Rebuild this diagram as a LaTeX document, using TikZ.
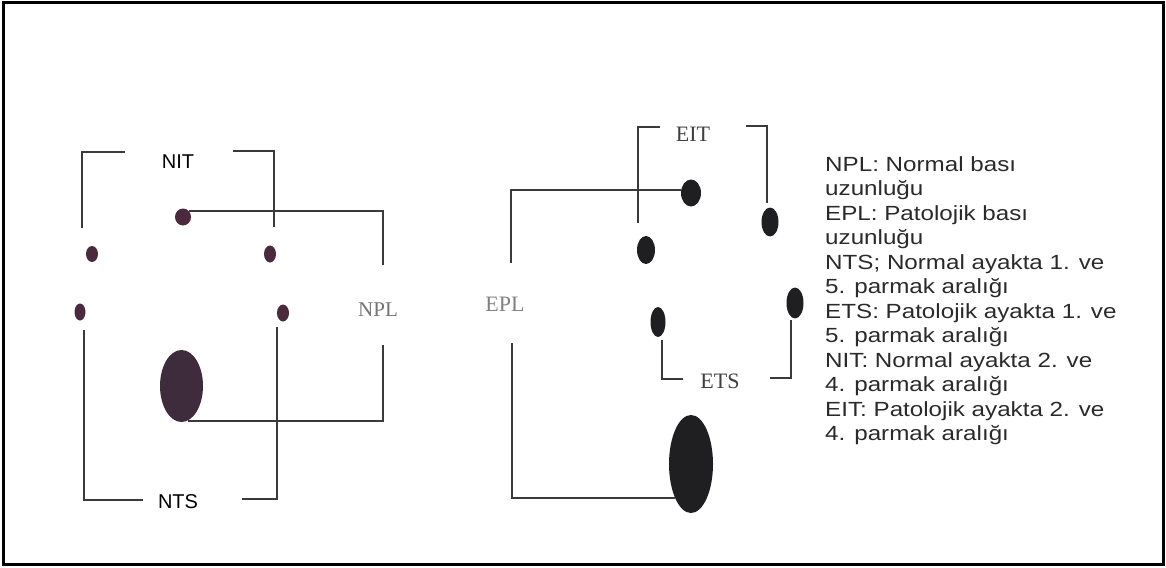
\documentclass[tikz,border=0pt]{standalone}
\usepackage{fontspec}
\usepackage{xcolor}
\usepackage{tikz}
\usetikzlibrary{shapes.geometric, positioning}
\setmainfont{Liberation Serif}
\newfontfamily\labsans{Liberation Sans}
\newfontfamily\legendfont[FakeStretch=1.18]{Liberation Sans}
\definecolor{footNormal}{HTML}{4A2A3C}
\definecolor{footNormalBig}{HTML}{3E2C3C}
\definecolor{footPatho}{HTML}{1F1F22}
\definecolor{lineGray}{HTML}{3A3A3A}
\definecolor{legendGray}{HTML}{2A2A2A}

\begin{document}
\begin{tikzpicture}[
    x=1pt, y=-1pt,
    link/.style={draw=lineGray, line width=1.9pt},
    ndot/.style={ellipse, fill=footNormal, inner sep=0pt},
    edot/.style={ellipse, fill=footPatho, inner sep=0pt},
    sanslbl/.style={font=\labsans\fontsize{20}{24}\selectfont, inner sep=0pt},
    seriflbl/.style={font=\fontsize{21}{24}\selectfont, inner sep=0pt},
]
    \useasboundingbox (0,0) rectangle (1166,567);
    \draw[line width=3pt] (3,3) rectangle (1163,564);

    % normal foot
    \node[ndot, minimum width=12pt, minimum height=16pt] (n1) at (92,254) {};
    \node[ndot, minimum width=16pt, minimum height=17pt] (n2) at (183,217) {};
    \node[ndot, minimum width=12pt, minimum height=17pt] (n3) at (270,254) {};
    \node[ndot, minimum width=11pt, minimum height=17pt] (n4) at (80,312) {};
    \node[ndot, minimum width=12pt, minimum height=17pt] (n5) at (283,313) {};
    \node[ellipse, fill=footNormalBig, inner sep=0pt, minimum width=43pt, minimum height=72pt] (nheel) at (181.5,386) {};

    \node[sanslbl] (nit) at (178,162) {NIT};
    \node[sanslbl] (nts) at (178,502) {NTS};
    \node[seriflbl, text=black!55] (npl) at (378,310) {NPL};

    \coordinate (nitA) at (82,228);
    \coordinate (nitB) at (125,152);
    \coordinate (nitC) at (233,151);
    \coordinate (nitD) at (274,227);
    \coordinate (ntsA) at (84,330);
    \coordinate (ntsB) at (143,500);
    \coordinate (ntsC) at (242,499);
    \coordinate (ntsD) at (277,327);
    \coordinate (nplA) at (383,265);
    \coordinate (nplB) at (383,345);

    \draw[link] (nitA) |- (nitB);
    \draw[link] (nitC) -| (nitD);
    \draw[link] (ntsA) |- (ntsB);
    \draw[link] (ntsC) -| (ntsD);
    \draw[link] (n2.north east) -| (nplA);
    \draw[link] (nheel.-80) -| (nplB);

    % pathologic foot
    \node[edot, minimum width=18pt, minimum height=28pt] (e1) at (646,250) {};
    \node[edot, minimum width=20pt, minimum height=27pt] (e2) at (691,193) {};
    \node[edot, minimum width=17pt, minimum height=29pt] (e3) at (770,222) {};
    \node[edot, minimum width=15pt, minimum height=30pt] (e4) at (658,322) {};
    \node[edot, minimum width=17pt, minimum height=31pt] (e5) at (795,303) {};
    \node[edot, minimum width=44pt, minimum height=98pt] (eheel) at (691,464) {};

    \node[seriflbl, text=black!75, font=\fontsize{22}{24}\selectfont] (eit) at (693,134) {EIT};
    \node[seriflbl, text=black!75, font=\fontsize{22}{24}\selectfont] (ets) at (720,381) {ETS};
    \node[seriflbl, text=black!50, font=\fontsize{22}{24}\selectfont] (epl) at (505,304) {EPL};

    \coordinate (eitA) at (638,223);
    \coordinate (eitB) at (660,127);
    \coordinate (eitC) at (746,126);
    \coordinate (eitD) at (767,203);
    \coordinate (etsA) at (662,340);
    \coordinate (etsB) at (683,379);
    \coordinate (etsC) at (770,378);
    \coordinate (etsD) at (791,320);
    \coordinate (eplA) at (511,263);
    \coordinate (eplB) at (512,343);

    \draw[link] (eitA) |- (eitB);
    \draw[link] (eitC) -| (eitD);
    \draw[link] (etsA) |- (etsB);
    \draw[link] (etsC) -| (etsD);
    \draw[link] (e2.165) -| (eplA);
    \draw[link] (eplB) |- (eheel.-115);

    \node[anchor=north west, align=left, inner sep=0pt, text=legendGray,
          font=\legendfont\fontsize{20.5}{24.5}\selectfont] (legend) at (825,156) {%
        NPL: Normal bası\\
        uzunluğu\\
        EPL: Patolojik bası\\
        uzunluğu\\
        NTS; Normal ayakta 1. ve\\
        5. parmak aralığı\\
        ETS: Patolojik ayakta 1. ve\\
        5. parmak aralığı\\
        NIT: Normal ayakta 2. ve\\
        4. parmak aralığı\\
        EIT: Patolojik ayakta 2. ve\\
        4. parmak aralığı};
\end{tikzpicture}
\end{document}
